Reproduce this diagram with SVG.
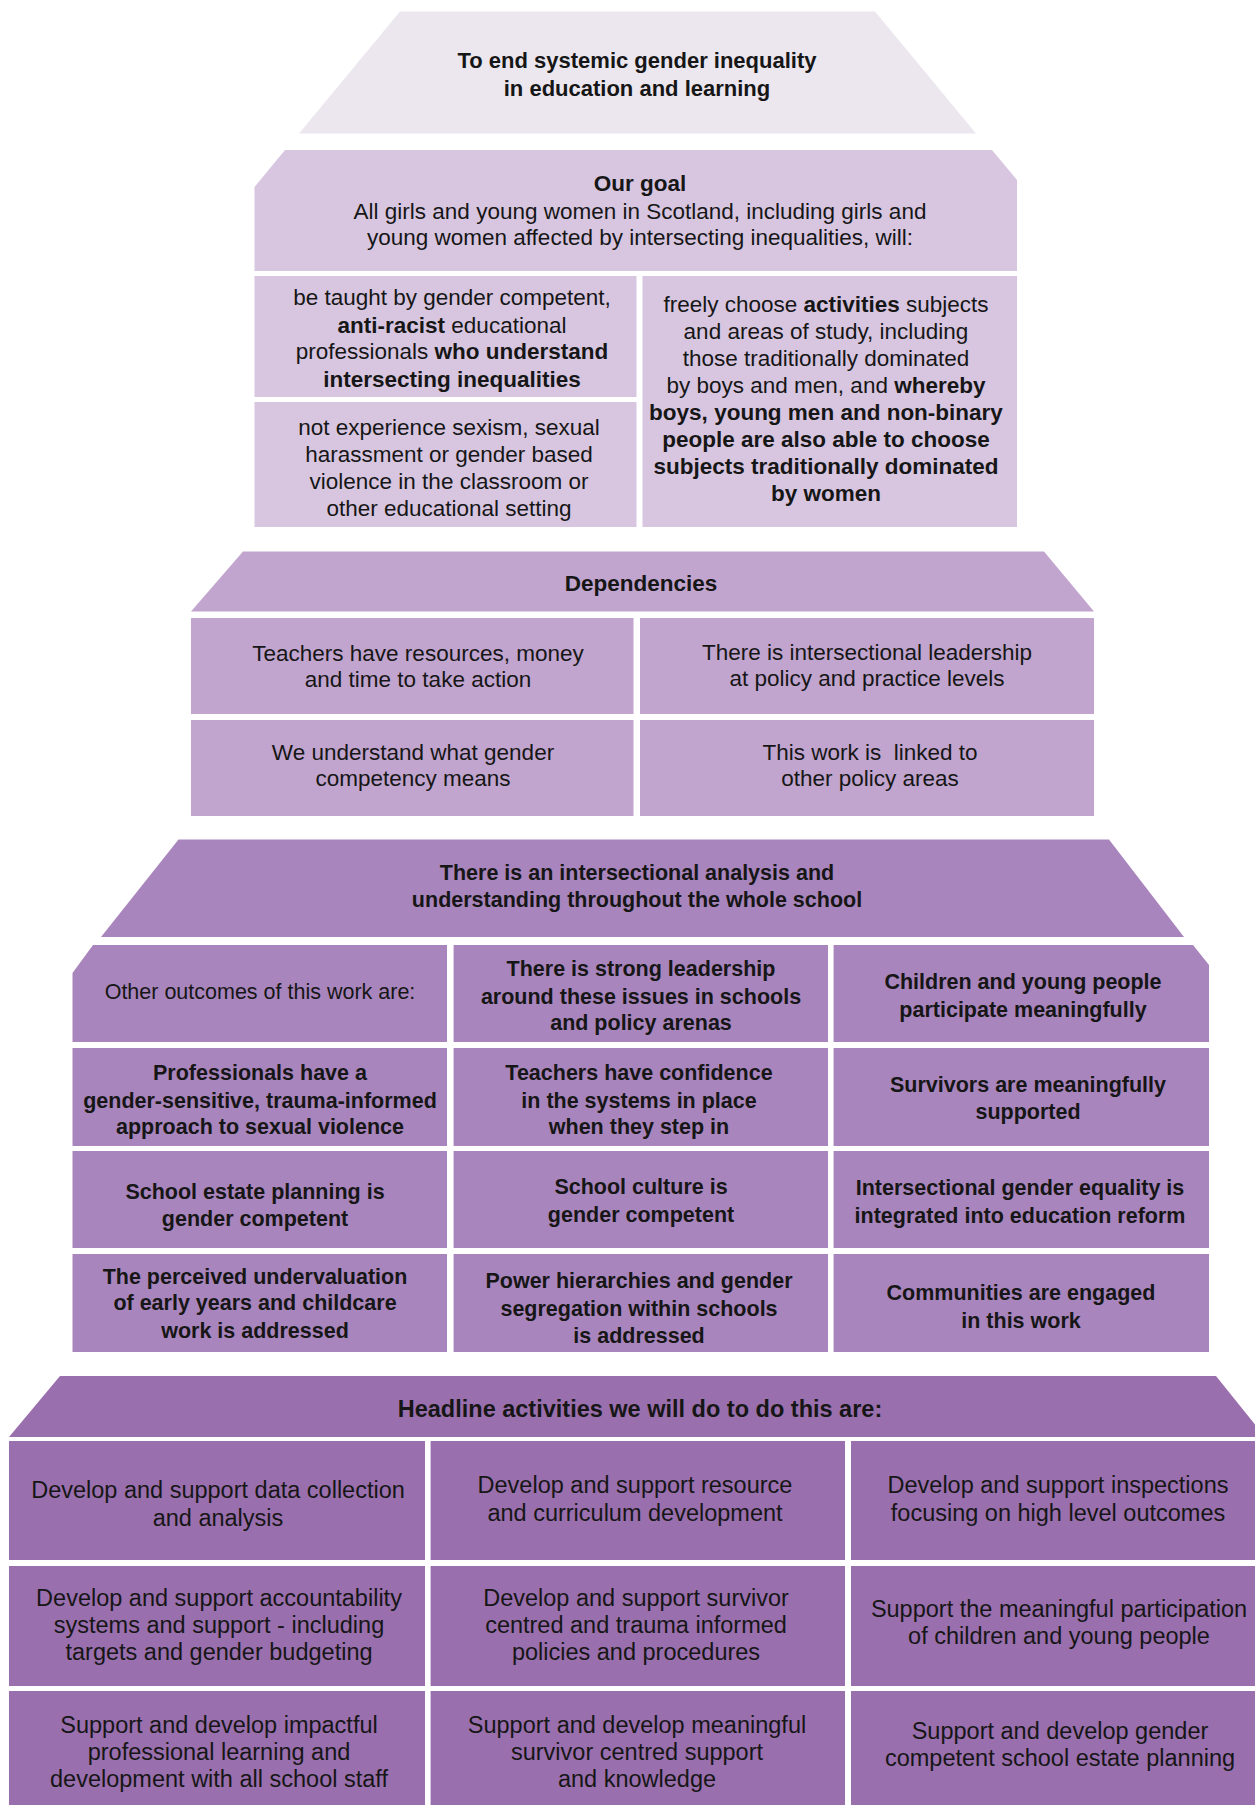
<svg xmlns="http://www.w3.org/2000/svg" width="1255" height="1805" viewBox="0 0 1255 1805">
<style>
text{font-family:"Liberation Sans",Arial,Helvetica,sans-serif;fill:#161616;text-anchor:middle}
.s1{font-size:22px;font-weight:bold}
.s2{font-size:22.5px}
.s3{font-size:22.5px}
.s4{font-size:21.5px;font-weight:bold}
.s4r{font-size:21.5px}
.s5{font-size:23.5px}
.s5b{font-size:23.5px;font-weight:bold}
.b{font-weight:bold}
.c1{fill:#ECE7EF}
.c2{fill:#D8C6E1}
.c3{fill:#C1A5CE}
.c4{fill:#A985BD}
.c5{fill:#9A6FAE}
</style>
<rect width="1255" height="1805" fill="#FFFFFF"/>
<g id="connectors"/>

<g id="aim">
<polygon class="c1" points="400,11.5 875,11.5 976,133.6 299,133.6"/>
<text class="s1" x="637" y="68">To end systemic gender inequality</text>
<text class="s1" x="637" y="95.5">in education and learning</text>
</g>

<g id="goal">
<polygon class="c2" points="285,150 992,150 1017,180 1017,271 254.5,271 254.5,187"/>
<text class="s2 b" x="640" y="191">Our goal</text>
<text class="s2" x="640" y="218.7">All girls and young women in Scotland, including girls and</text>
<text class="s2" x="640" y="245">young women affected by intersecting inequalities, will:</text>
</g>
<g id="goal-taught">
<rect class="c2" x="254.5" y="276" width="382" height="121"/>
<text class="s2" x="452" y="305">be taught by gender competent,</text>
<text class="s2" x="452" y="332.7"><tspan class="b">anti-racist</tspan> educational</text>
<text class="s2" x="452" y="359">professionals <tspan class="b">who understand</tspan></text>
<text class="s2 b" x="452" y="386.8">intersecting inequalities</text>
</g>
<g id="goal-safe">
<rect class="c2" x="254.5" y="402" width="382" height="125"/>
<text class="s2" x="449" y="435">not experience sexism, sexual</text>
<text class="s2" x="449" y="461.6">harassment or gender based</text>
<text class="s2" x="449" y="489">violence in the classroom or</text>
<text class="s2" x="449" y="515.8">other educational setting</text>
</g>
<g id="goal-choose">
<rect class="c2" x="642.5" y="276" width="374.5" height="251"/>
<text class="s2" x="826" y="312">freely choose <tspan class="b">activities</tspan> subjects</text>
<text class="s2" x="826" y="338.5">and areas of study, including</text>
<text class="s2" x="826" y="366">those traditionally dominated</text>
<text class="s2" x="826" y="392.6">by boys and men, and <tspan class="b">whereby</tspan></text>
<text class="s2 b" x="826" y="420">boys, young men and non-binary</text>
<text class="s2 b" x="826" y="446.7">people are also able to choose</text>
<text class="s2 b" x="826" y="474">subjects traditionally dominated</text>
<text class="s2 b" x="826" y="500.8">by women</text>
</g>

<g id="dependencies">
<polygon class="c3" points="243,551.5 1044,551.5 1094,611.5 191,611.5"/>
<text class="s3 b" x="641" y="590.6">Dependencies</text>
</g>
<g id="dep-resources">
<rect class="c3" x="191" y="618" width="442.5" height="96"/>
<text class="s3" x="418" y="661">Teachers have resources, money</text>
<text class="s3" x="418" y="687.3">and time to take action</text>
</g>
<g id="dep-leadership">
<rect class="c3" x="640" y="618" width="454" height="96"/>
<text class="s3" x="867" y="659.7">There is intersectional leadership</text>
<text class="s3" x="867" y="686">at policy and practice levels</text>
</g>
<g id="dep-competency">
<rect class="c3" x="191" y="720" width="442.5" height="96"/>
<text class="s3" x="413" y="760">We understand what gender</text>
<text class="s3" x="413" y="786">competency means</text>
</g>
<g id="dep-linked">
<rect class="c3" x="640" y="720" width="454" height="96"/>
<text class="s3" x="870" y="760" xml:space="preserve">This work is  linked to</text>
<text class="s3" x="870" y="786">other policy areas</text>
</g>

<g id="analysis">
<polygon class="c4" points="178.5,839.5 1109,839.5 1184,937 101,937"/>
<text class="s4" x="637" y="879.6">There is an intersectional analysis and</text>
<text class="s4" x="637" y="907.2">understanding throughout the whole school</text>
</g>
<g id="out-intro">
<polygon class="c4" points="93,945 447,945 447,1042 72.5,1042 72.5,973"/>
<text class="s4r" x="260" y="999.3">Other outcomes of this work are:</text>
</g>
<g id="out-leadership">
<rect class="c4" x="453.6" y="945" width="374.4" height="97"/>
<text class="s4" x="641" y="976">There is strong leadership</text>
<text class="s4" x="641" y="1004">around these issues in schools</text>
<text class="s4" x="641" y="1030.4">and policy arenas</text>
</g>
<g id="out-participate">
<polygon class="c4" points="833.6,945 1193,945 1209,965 1209,1042 833.6,1042"/>
<text class="s4" x="1023" y="989">Children and young people</text>
<text class="s4" x="1023" y="1016.6">participate meaningfully</text>
</g>
<g id="out-professionals">
<rect class="c4" x="72.5" y="1048" width="374.5" height="98"/>
<text class="s4" x="260" y="1080">Professionals have a</text>
<text class="s4" x="260" y="1107.6">gender-sensitive, trauma-informed</text>
<text class="s4" x="260" y="1134">approach to sexual violence</text>
</g>
<g id="out-confidence">
<rect class="c4" x="453.6" y="1048" width="374.4" height="98"/>
<text class="s4" x="639" y="1080">Teachers have confidence</text>
<text class="s4" x="639" y="1107.6">in the systems in place</text>
<text class="s4" x="639" y="1134">when they step in</text>
</g>
<g id="out-survivors">
<rect class="c4" x="833.6" y="1048" width="375.4" height="98"/>
<text class="s4" x="1028" y="1091.5">Survivors are meaningfully</text>
<text class="s4" x="1028" y="1119">supported</text>
</g>
<g id="out-estate">
<rect class="c4" x="72.5" y="1151" width="374.5" height="97"/>
<text class="s4" x="255" y="1198.5">School estate planning is</text>
<text class="s4" x="255" y="1226">gender competent</text>
</g>
<g id="out-culture">
<rect class="c4" x="453.6" y="1151" width="374.4" height="97"/>
<text class="s4" x="641" y="1194">School culture is</text>
<text class="s4" x="641" y="1221.5">gender competent</text>
</g>
<g id="out-reform">
<rect class="c4" x="833.6" y="1151" width="375.4" height="97"/>
<text class="s4" x="1020" y="1195">Intersectional gender equality is</text>
<text class="s4" x="1020" y="1222.7">integrated into education reform</text>
</g>
<g id="out-earlyyears">
<rect class="c4" x="72.5" y="1254" width="374.5" height="98"/>
<text class="s4" x="255" y="1283.7">The perceived undervaluation</text>
<text class="s4" x="255" y="1310">of early years and childcare</text>
<text class="s4" x="255" y="1338">work is addressed</text>
</g>
<g id="out-hierarchies">
<rect class="c4" x="453.6" y="1254" width="374.4" height="98"/>
<text class="s4" x="639" y="1288">Power hierarchies and gender</text>
<text class="s4" x="639" y="1316">segregation within schools</text>
<text class="s4" x="639" y="1342.5">is addressed</text>
</g>
<g id="out-communities">
<rect class="c4" x="833.6" y="1254" width="375.4" height="98"/>
<text class="s4" x="1021" y="1300">Communities are engaged</text>
<text class="s4" x="1021" y="1327.5">in this work</text>
</g>

<g id="activities">
<polygon class="c5" points="60,1376 1216,1376 1265,1437 9,1437"/>
<text class="s5b" x="640" y="1417">Headline activities we will do to do this are:</text>
</g>
<g id="act-data">
<rect class="c5" x="9" y="1441" width="416" height="119"/>
<text class="s5" x="218" y="1498">Develop and support data collection</text>
<text class="s5" x="218" y="1525.5">and analysis</text>
</g>
<g id="act-curriculum">
<rect class="c5" x="430.6" y="1441" width="414.4" height="119"/>
<text class="s5" x="635" y="1493">Develop and support resource</text>
<text class="s5" x="635" y="1521">and curriculum development</text>
</g>
<g id="act-inspections">
<rect class="c5" x="851" y="1441" width="404" height="119"/>
<text class="s5" x="1058" y="1493">Develop and support inspections</text>
<text class="s5" x="1058" y="1521">focusing on high level outcomes</text>
</g>
<g id="act-accountability">
<rect class="c5" x="9" y="1566" width="416" height="120"/>
<text class="s5" x="219" y="1606">Develop and support accountability</text>
<text class="s5" x="219" y="1632.6">systems and support - including</text>
<text class="s5" x="219" y="1660">targets and gender budgeting</text>
</g>
<g id="act-survivor-policies">
<rect class="c5" x="430.6" y="1566" width="414.4" height="120"/>
<text class="s5" x="636" y="1606">Develop and support survivor</text>
<text class="s5" x="636" y="1632.6">centred and trauma informed</text>
<text class="s5" x="636" y="1660">policies and procedures</text>
</g>
<g id="act-participation">
<rect class="c5" x="851" y="1566" width="404" height="120"/>
<text class="s5" x="1059" y="1616.5">Support the meaningful participation</text>
<text class="s5" x="1059" y="1644">of children and young people</text>
</g>
<g id="act-learning">
<rect class="c5" x="9" y="1691" width="416" height="114"/>
<text class="s5" x="219" y="1733">Support and develop impactful</text>
<text class="s5" x="219" y="1760">professional learning and</text>
<text class="s5" x="219" y="1787">development with all school staff</text>
</g>
<g id="act-survivor-support">
<rect class="c5" x="430.6" y="1691" width="414.4" height="114"/>
<text class="s5" x="637" y="1733">Support and develop meaningful</text>
<text class="s5" x="637" y="1760">survivor centred support</text>
<text class="s5" x="637" y="1787">and knowledge</text>
</g>
<g id="act-estate">
<rect class="c5" x="851" y="1691" width="404" height="114"/>
<text class="s5" x="1060" y="1738.5">Support and develop gender</text>
<text class="s5" x="1060" y="1766">competent school estate planning</text>
</g>
</svg>
